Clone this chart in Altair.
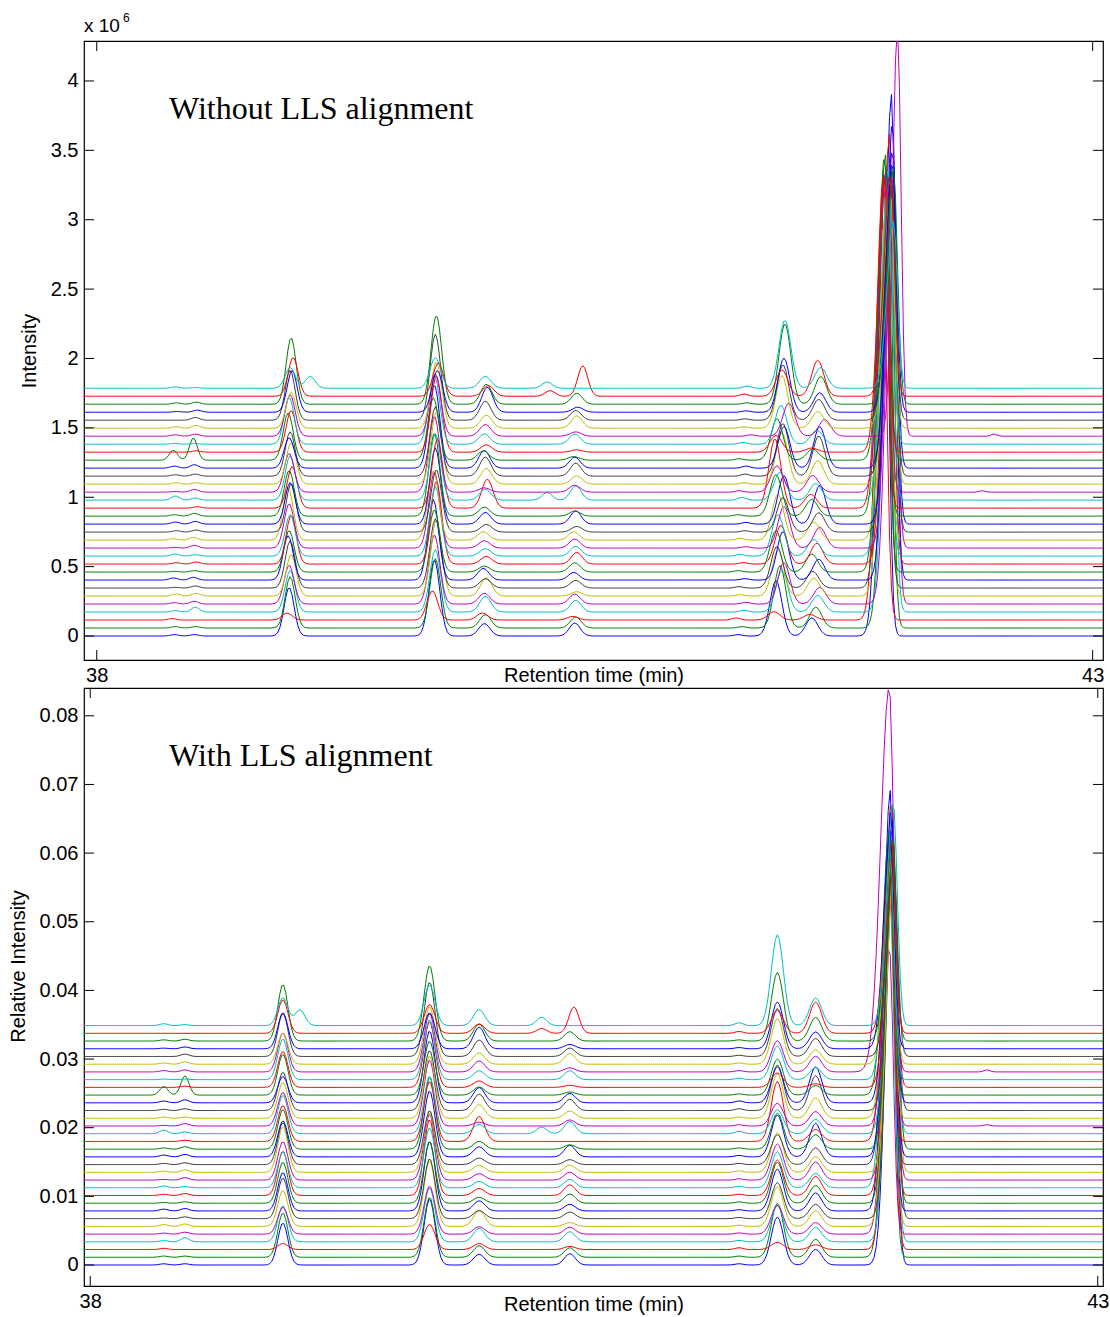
import numpy as np
import pandas as pd
import altair as alt

alt.data_transformers.disable_max_rows()

N_TRACES = 32
matlab_colors = ["#0000FF", "#008000", "#FF0000", "#00BFBF", "#BF00BF", "#BFBF00", "#404040"]
trace_colors = [matlab_colors[i % 7] for i in range(N_TRACES)]

# vertical stacking step between successive chromatograms
top_offset_step = 0.0576      # x 10^6
bottom_offset_step = 0.001125  # relative intensity

# peaks (retention times)
peak_names = ["m1", "m2", "p1", "side", "p2", "p3", "b40", "p4", "p4r", "m3", "p5", "p6", "big", "m4"]
centers_top = [38.39, 38.49, 38.966, 39.067, 39.695, 39.946, 40.256, 40.40, 40.42, 41.24, 41.43, 41.61, 41.975, 42.46]
centers_bottom = [38.365, 38.47, 38.956, 39.04, 39.684, 39.93, 40.24, 40.38, 40.40, 41.22, 41.41, 41.60, 41.975, 42.45]
peak_sigma = [0.02, 0.02, 0.025, 0.025, 0.027, 0.028, 0.025, 0.027, 0.025, 0.02, 0.03, 0.03, 0.029, 0.015]
# the main peak is fronting: wider on its leading side
big_sigma_left = 0.032
big_sigma_right = 0.02

# per-trace peak heights in the unaligned data (x 10^6), trace 0 = bottom
m1_top = [0.01, 0.01, 0.01, 0.01, 0.01, 0.015, 0.005, 0.015, 0.005, 0.01, 0.015, 0.005, 0.01, 0.01, 0.015, 0.01,
          0.0, 0.03, 0.005, 0.01, 0.01, 0.015, 0.072, 0.0, 0.005, 0.01, 0.01, 0.0, 0.005, 0.01, 0.0, 0.01]
m2_top = [0.01, 0.01, 0.0, 0.035, 0.02, 0.02, 0.015, 0.02, 0.01, 0.015, 0.01, 0.02, 0.02, 0.015, 0.02, 0.02,
          0.01, 0.015, 0.02, 0.01, 0.015, 0.025, 0.16, 0.01, 0.005, 0.015, 0.02, 0.02, 0.015, 0.015, 0.0, 0.005]
p1_top = [0.35, 0.37, 0.05, 0.3, 0.28, 0.3, 0.34, 0.32, 0.3, 0.35, 0.3, 0.32, 0.38, 0.35, 0.3, 0.33,
          0.3, 0.32, 0.28, 0.3, 0.32, 0.22, 0.34, 0.3, 0.34, 0.3, 0.26, 0.36, 0.3, 0.48, 0.28, 0.15]
side_top = [0.0] * 31 + [0.085]
p2_top = [0.55, 0.5, 0.21, 0.45, 0.5, 0.55, 0.5, 0.58, 0.45, 0.6, 0.5, 0.55, 0.5, 0.45, 0.55, 0.6,
          0.5, 0.48, 0.55, 0.52, 0.5, 0.6, 0.45, 0.55, 0.5, 0.45, 0.48, 0.62, 0.3, 0.64, 0.24, 0.22]
p3_top = [0.089, 0.096, 0.05, 0.113, 0.077, 0.132, 0.067, 0.084, 0.043, 0.055, 0.053, 0.053, 0.06, 0.055, 0.084, 0.065,
          0.209, 0.079, 0.031, 0.113, 0.137, 0.127, 0.067, 0.053, 0.074, 0.084, 0.094, 0.137, 0.18, 0.144, 0.077, 0.086]
b40_top = [0.0] * 17 + [0.055] + [0.0] * 12 + [0.04, 0.045]
p4_top = [0.094, 0.079, 0.026, 0.084, 0.072, 0.031, 0.055, 0.055, 0.067, 0.084, 0.07, 0.065, 0.06, 0.041, 0.096, 0.036,
          0.0, 0.103, 0.05, 0.06, 0.094, 0.079, 0.026, 0.017, 0.074, 0.031, 0.089, 0.07, 0.036, 0.079, 0.0, 0.0]
p4r_top = [0.0] * 30 + [0.22, 0.0]
m3_top = [0.01, 0.01, 0.015, 0.012, 0.012, 0.01, 0.01, 0.01, 0.01, 0.01, 0.012, 0.01, 0.012, 0.01, 0.012, 0.01,
          0.0, 0.02, 0.01, 0.01, 0.015, 0.015, 0.01, 0.0, 0.012, 0.01, 0.01, 0.01, 0.01, 0.01, 0.015, 0.015]
p5_top = [0.4, 0.45, 0.06, 0.3, 0.3, 0.33, 0.3, 0.35, 0.3, 0.28, 0.3, 0.3, 0.33, 0.25, 0.35, 0.3,
          0.5, 0.2, 0.19, 0.37, 0.38, 0.3, 0.3, 0.12, 0.28, 0.24, 0.38, 0.4, 0.39, 0.58, 0.19, 0.49]
p6_top = [0.13, 0.15, 0.04, 0.12, 0.12, 0.13, 0.12, 0.15, 0.13, 0.15, 0.12, 0.15, 0.13, 0.14, 0.28, 0.12,
          0.1, 0.12, 0.12, 0.17, 0.29, 0.3, 0.08, 0.03, 0.1, 0.12, 0.12, 0.15, 0.14, 0.2, 0.26, 0.15]
big_top = [3.35, 3.3, 2.9, 3.1, 3.0, 2.8, 3.0, 3.5, 2.9, 3.1, 2.6, 2.7, 2.5, 2.6, 2.9, 2.6,
           2.4, 2.4, 2.3, 2.1, 2.1, 2.3, 2.2, 2.0, 1.9, 2.95, 1.7, 1.7, 1.8, 1.7, 1.6, 1.2]
m4_top = [0.0] * 18 + [0.01] + [0.0] * 6 + [0.015] + [0.0] * 6

amps_top = {"m1": m1_top, "m2": m2_top, "p1": p1_top, "side": side_top, "p2": p2_top, "p3": p3_top,
            "b40": b40_top, "p4": p4_top, "p4r": p4r_top, "m3": m3_top, "p5": p5_top, "p6": p6_top,
            "big": big_top, "m4": m4_top}

# retention-time shifts of each run before alignment (min)
shift_early = [0.0, 0.005, -0.01, 0.005, 0.0, 0.01, 0.005, -0.005, 0.0, 0.01, 0.005, 0.0, -0.005, 0.01, 0.005, 0.0,
               0.015, 0.005, 0.0, 0.01, 0.005, 0.0, -0.005, 0.01, 0.0, 0.005, 0.01, 0.005, 0.015, 0.01, 0.02, 0.005]
shift_late = [-0.02, 0.0, -0.03, 0.01, 0.02, -0.01, -0.015, 0.015, -0.02, 0.005, -0.01, 0.02, -0.01, 0.015, 0.02, -0.02,
              -0.025, 0.0, -0.015, 0.01, 0.015, 0.02, -0.015, -0.02, 0.005, 0.045, 0.01, 0.015, 0.02, 0.025, 0.01, 0.025]
# residual shifts after alignment, main peak only (min)
shift_big_bottom = [0.005, -0.005, 0.0, 0.005, -0.01, 0.0, 0.01, -0.005, 0.005, 0.0, -0.01, 0.005, 0.01, -0.005, 0.0,
                    0.01, -0.01, 0.005, 0.0, -0.005, 0.01, 0.0, -0.01, 0.005, -0.005, -0.01, 0.0, 0.01, -0.005,
                    0.005, 0.0, 0.01]

# per-run normalisation factor giving the relative intensities (per 10^6 counts)
norm_factor = [0.0175, 0.0175, 0.0175, 0.0175, 0.014, 0.0175, 0.0175, 0.0175, 0.02, 0.0185, 0.0175, 0.0175,
               0.0175, 0.0175, 0.0175, 0.0175, 0.0175, 0.0175, 0.0175, 0.0175, 0.0175, 0.0175, 0.0175, 0.0175,
               0.0175, 0.019, 0.0175, 0.0175, 0.0175, 0.0172, 0.0175, 0.027]

# main-peak widths (left, right) of the odd run (trace 25) in the two panels
big_sigma_top_25 = (0.024, 0.018)
big_sigma_bottom_25 = (0.042, 0.022)

yticks_top = [0, 0.5, 1, 1.5, 2, 2.5, 3, 3.5, 4]
yticks_bottom = [0, 0.01, 0.02, 0.03, 0.04, 0.05, 0.06, 0.07, 0.08]
xticks = [38, 43]

xdom_top = [37.936, 43.052]
xdom_bottom = [37.969, 43.026]
ydom_top = [-0.173, 4.288]
ydom_bottom = [-0.00306, 0.08405]

t = np.round(np.arange(37.92, 43.0701, 0.01), 3)


def build(panel):
    rows = []
    for i in range(N_TRACES):
        if panel == "top":
            y = np.full_like(t, i * top_offset_step)
        else:
            y = np.full_like(t, i * bottom_offset_step)
        for k, name in enumerate(peak_names):
            a = amps_top[name][i]
            if a == 0:
                continue
            if panel == "top":
                c = centers_top[k] + (shift_early[i] if centers_top[k] < 41 else shift_late[i])
            else:
                a = a * norm_factor[i]
                c = centers_bottom[k] + (shift_big_bottom[i] if name == "big" else 0.0)
            if name == "big":
                sl, sr = big_sigma_left, big_sigma_right
                if i == 25:
                    sl, sr = big_sigma_top_25 if panel == "top" else big_sigma_bottom_25
                s = np.where(t < c, sl, sr)
            else:
                s = peak_sigma[k]
            y = y + a * np.exp(-0.5 * ((t - c) / s) ** 2)
        rows.append(pd.DataFrame({"t": t, "y": y, "trace": i}))
    return pd.concat(rows, ignore_index=True)


df_top = build("top")
df_bottom = build("bottom")

FONT = "Liberation Sans"
FS = 20
W = 1019
H_TOP = 619
H_BOT = 598


def panel(df, xdom, ydom, yticks, H, ytitle, ytitle_x, ytitle_y, label, xtitle_y):
    xs = alt.Scale(domain=xdom, nice=False, zero=False)
    ys = alt.Scale(domain=ydom, nice=False, zero=False)
    lines = alt.Chart(df).mark_line(strokeWidth=1, clip=True).encode(
        x=alt.X("t:Q", scale=xs, axis=alt.Axis(values=xticks, ticks=False, domain=False, grid=False,
                                               format="d", labelFont=FONT, labelFontSize=FS, labelPadding=5,
                                               labelColor="black", title="Retention time (min)",
                                               titleFont=FONT, titleFontSize=FS, titleFontWeight="normal",
                                               titleColor="black", titleX=W / 2, titleY=xtitle_y,
                                               titleBaseline="middle")),
        y=alt.Y("y:Q", scale=ys, axis=alt.Axis(values=yticks, ticks=False, domain=False, grid=False,
                                               format="~g", labelFont=FONT, labelFontSize=FS,
                                               labelPadding=6, labelColor="black", title=ytitle,
                                               titleFont=FONT, titleFontSize=FS, titleFontWeight="normal",
                                               titleColor="black", titleX=ytitle_x, titleY=ytitle_y,
                                               titleBaseline="middle", titleAngle=270)),
        color=alt.Color("trace:N", scale=alt.Scale(domain=list(range(N_TRACES)), range=trace_colors),
                        legend=None),
    )
    ydf = pd.DataFrame({"v": yticks})
    xdf = pd.DataFrame({"v": xticks})
    yl = alt.Chart(ydf).mark_rule(color="black", strokeWidth=1).encode(
        y=alt.Y("v:Q", scale=ys), x=alt.value(0), x2=alt.value(10))
    yr = alt.Chart(ydf).mark_rule(color="black", strokeWidth=1).encode(
        y=alt.Y("v:Q", scale=ys), x=alt.value(W - 10), x2=alt.value(W))
    xb = alt.Chart(xdf).mark_rule(color="black", strokeWidth=1).encode(
        x=alt.X("v:Q", scale=xs), y=alt.value(H - 10), y2=alt.value(H))
    xt = alt.Chart(xdf).mark_rule(color="black", strokeWidth=1).encode(
        x=alt.X("v:Q", scale=xs), y=alt.value(0), y2=alt.value(10))
    txt = alt.Chart(pd.DataFrame({"s": [label]})).mark_text(
        font="Liberation Serif", fontSize=32, align="left", baseline="middle", color="black"
    ).encode(x=alt.value(85), y=alt.value(68), text="s:N")
    layers = [lines, yl, yr, xb, xt, txt]
    return alt.layer(*layers).properties(width=W, height=H)


top = panel(df_top, xdom_top, ydom_top, yticks_top, H_TOP, "Intensity", -55, H_TOP / 2,
            "Without LLS alignment", 15)
exp_df = pd.DataFrame({"s": ["x 10"], "e": ["6"]})
exp_base = alt.Chart(exp_df).mark_text(font=FONT, fontSize=19, align="left", baseline="alphabetic",
                                       color="black").encode(x=alt.value(0), y=alt.value(-9), text="s:N")
exp_sup = alt.Chart(exp_df).mark_text(font=FONT, fontSize=12, align="left", baseline="alphabetic",
                                      color="black").encode(x=alt.value(39), y=alt.value(-19), text="e:N")
top = alt.layer(top, exp_base, exp_sup)

bottom = panel(df_bottom, xdom_bottom, ydom_bottom, yticks_bottom, H_BOT, "Relative Intensity", -66, 278,
               "With LLS alignment", 18)

chart = alt.vconcat(top, bottom, spacing=0).properties(
    padding={"left": 7, "top": 11, "right": 0, "bottom": 0}, background="white"
).configure_view(stroke="black", strokeWidth=1.2)

chart.save("out.html", embed_options={"renderer": "svg", "actions": False})
